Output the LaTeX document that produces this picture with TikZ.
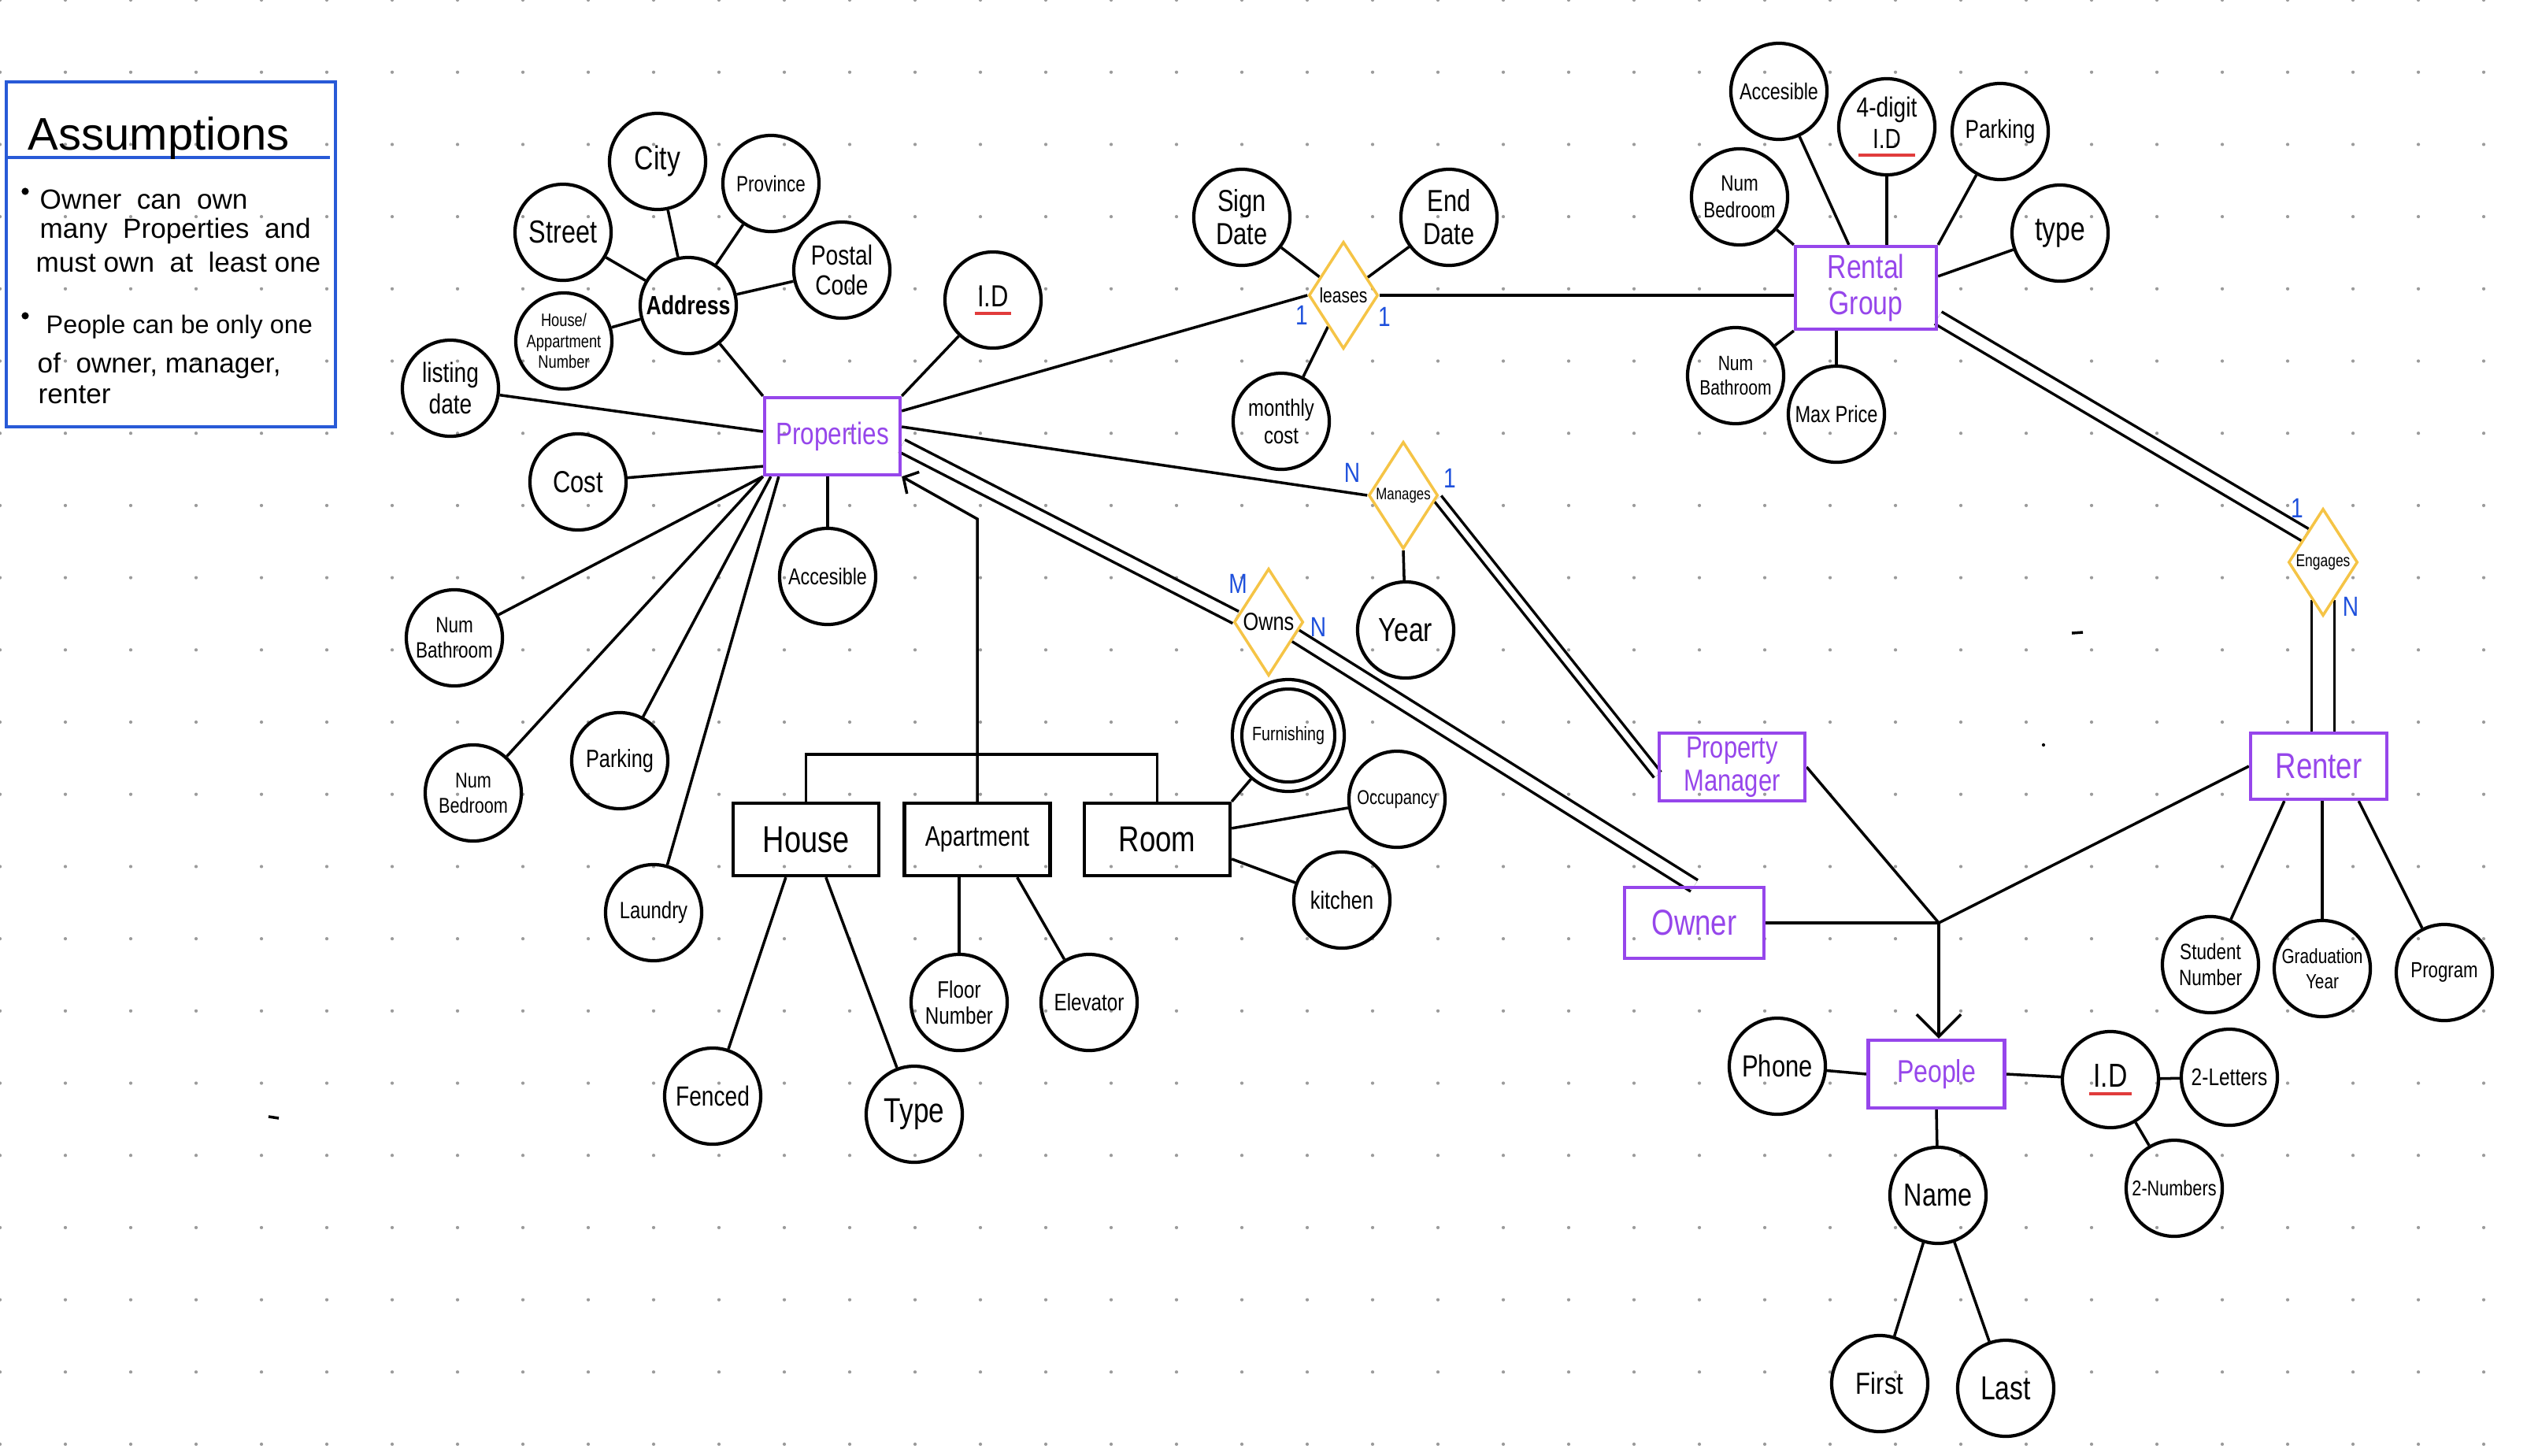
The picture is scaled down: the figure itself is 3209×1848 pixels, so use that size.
\documentclass[tikz,border=0pt]{standalone}
\usepackage{fontspec}
\setmainfont{Liberation Sans}[FakeStretch=0.8]
\newfontfamily\plainfont{Liberation Sans}
\usetikzlibrary{shapes.geometric,calc,arrows.meta}

\definecolor{purp}{RGB}{150,70,235}
\definecolor{yel}{RGB}{245,196,70}
\definecolor{cblue}{RGB}{30,80,220}
\definecolor{ablue}{RGB}{40,90,215}
\definecolor{idred}{RGB}{225,60,60}
\definecolor{dotc}{RGB}{155,155,155}

\pgfdeclarelayer{bg}
\pgfsetlayers{bg,main}

\newcommand\fz[2]{\fontsize{#1}{#2}\selectfont}
% key attribute: text with a red underline, #1 = overhang on each side
\newcommand\keyul[2]{\setbox0=\hbox{#2}\copy0\kern#1\llap{\color{idred}\rule[-3pt]{\dimexpr\wd0+#1+#1\relax}{1.1pt}}\kern-#1}

\tikzset{
  attr/.style={circle, draw, line width=1.2pt, minimum size=1.22cm, inner sep=0pt, align=center},
  ent/.style={rectangle, draw=purp, text=purp, line width=1.2pt, inner sep=0pt, align=center},
  sub/.style={rectangle, draw, line width=1.2pt, inner sep=0pt, align=center},
  rel/.style={diamond, draw=yel, line width=1pt, aspect=0.65, inner sep=0pt, minimum width=0.88cm, minimum height=1.36cm},
  card/.style={text=cblue, font=\fz{10}{10}, inner sep=0pt},
  conn/.style={line width=1pt},
  dbl/.style={line width=1pt, double=white, double distance=#1},
  atxt/.style={anchor=base west, inner sep=0pt, font=\plainfont\fz{10}{12}},
}

\begin{document}
\begin{tikzpicture}[x=0.01cm, y=-0.01cm]
\useasboundingbox (0,0) rectangle (3209,1848);

% paper and its dot grid
\begin{pgfonlayer}{bg}
\fill[white] (0,0) rectangle (3209,1848);
\foreach \i in {0,...,38}{\foreach \j in {0,...,20}{
  \fill[dotc] (\i*83,\j*91.7) circle[radius=0.6pt];}}
\end{pgfonlayer}

% ---------- assumptions panel ----------
\draw[ablue, line width=1.1pt] (8,104) rectangle (426,542);
\draw[ablue, line width=1.1pt] (8,200) -- (419,200);
\node[anchor=base west, inner sep=0pt, font=\plainfont\fz{16.5}{18}] (atitle) at (35,190) {Assumptions};
\fill (32,243) circle[radius=1.3pt];
\node[atxt] (a1) at (50,265) {Owner\ \ can\ \ own};
\node[atxt] (a2) at (50,302) {many\ \ Properties\ \ and};
\node[atxt] (a3) at (45,345) {must\ own\ \ at\ \ least\ one};
\fill (32,401) circle[radius=1.3pt];
\node[atxt, font=\plainfont\fz{9.2}{12}] (a4) at (58,423) {People can be only\ one};
\node[atxt] (a5) at (47,473) {of\ \ owner, manager,};
\node[atxt] (a6) at (48,512) {renter};

% ---------- properties ----------
\node[ent, minimum width=1.72cm, minimum height=0.98cm, font=\fz{11.2}{12}] (props) at (1057,554) {Properties};
\node[attr, font=\bfseries\fz{9.5}{10}] (address) at (874,388) {Address};
\node[attr, font=\fz{12}{13}] (city) at (835,205) {City};
\node[attr, font=\fz{8}{9}] (province) at (979,233) {Province};
\node[attr, font=\fz{11.5}{12}] (street) at (715,295) {Street};
\node[attr, font=\fz{10}{11}] (postal) at (1069,343) {Postal\\Code};
\node[attr, font=\fz{6.5}{7.5}] (houseapt) at (716,433) {House/\\Appartment\\Number};
\node[attr, font=\fz{10}{11.5}] (listing) at (572,493) {listing\\date};
\node[attr, font=\fz{11}{12}] (pid) at (1261,381) {\keyul{1pt}{I.D}};
\node[attr, font=\fz{11}{12}] (cost) at (734,612) {Cost};
\node[attr, font=\fz{8}{9}] (nbath) at (577,810) {Num\\Bathroom};
\node[attr, font=\fz{8.3}{9}] (pacc) at (1051,732) {Accesible};
\node[attr, font=\fz{7.7}{9}] (nbed) at (601,1007) {Num\\Bedroom};
\node[attr, font=\fz{9}{10}] (ppark) at (787,966) {Parking};
\node[attr, font=\fz{8.5}{9}] (laundry) at (830,1159) {Laundry};

% subtypes
\node[sub, minimum width=1.85cm, minimum height=0.92cm, font=\fz{13.5}{14}] (house) at (1023.5,1066) {House};
\node[sub, minimum width=1.85cm, minimum height=0.92cm, font=\fz{10.2}{11}] (apt) at (1241,1066) {Apartment};
\node[sub, minimum width=1.85cm, minimum height=0.92cm, font=\fz{13}{14}] (room) at (1469.5,1066) {Room};
\coordinate (bar) at (1241,958);
\coordinate (bend) at (1241,659);
\node[attr, font=\fz{10}{11}] (fenced) at (905,1392) {Fenced};
\node[attr, font=\fz{12.5}{13}] (htype) at (1161,1415) {Type};
\node[attr, font=\fz{8.6}{9.5}] (floor) at (1218,1273) {Floor\\Number};
\node[attr, font=\fz{8.6}{9.5}] (elev) at (1383,1273) {Elevator};
\node[attr, double, double distance=2.2pt, minimum size=1.30cm, font=\fz{7}{8}] (furn) at (1636,934) {Furnishing};
\node[attr, font=\fz{7.2}{8}] (occ) at (1774,1015) {Occupancy};
\node[attr, font=\fz{9}{10}] (kitchen) at (1704,1143) {kitchen};

% ---------- relationships ----------
\node[rel, font=\fz{7.5}{8}] (leases) at (1706,375) {leases};
\node[attr, font=\fz{11}{12}] (sign) at (1577,276) {Sign\\Date};
\node[attr, font=\fz{11}{12}] (endd) at (1840,276) {End\\Date};
\node[attr, font=\fz{8.5}{10}] (monthly) at (1627,535) {monthly\\cost};
\node[card] (l1) at (1653,400) {1};
\node[card] (l2) at (1758,402) {1};

\node[rel, font=\fz{6}{7}] (manages) at (1782,629) {Manages};
\node[attr, font=\fz{12}{13}] (year) at (1785,800) {Year};
\node[card] (m1) at (1717,600) {N};
\node[card] (m2) at (1841,607) {1};

\node[rel, font=\fz{9}{10}] (owns) at (1611,790) {Owns};
\node[card] (o1) at (1572,741) {M};
\node[card] (o2) at (1674,796) {N};

\node[rel, font=\fz{6.2}{7}] (engages) at (2950,714) {Engages};
\node[card] (e1) at (2917,645) {1};
\node[card] (e2) at (2985,770) {N};

% ---------- rental group ----------
\node[ent, minimum width=1.79cm, minimum height=1.05cm, font=\fz{12}{13}] (rg) at (2369.5,365.5) {Rental\\Group};
\node[attr, font=\fz{8.3}{9}] (rgacc) at (2259,116) {Accesible};
\node[attr, font=\fz{10}{11.5}] (rgid) at (2396,161) {4-digit\\\keyul{5pt}{I.D}};
\node[attr, font=\fz{9.3}{10}] (rgpark) at (2540,167) {Parking};
\node[attr, font=\fz{12}{13}] (rgtype) at (2616,296) {type};
\node[attr, font=\fz{8}{9.5}] (rgbed) at (2209,250) {Num\\Bedroom};
\node[attr, font=\fz{7.5}{9}] (rgbath) at (2204,477) {Num\\Bathroom};
\node[attr, font=\fz{8.4}{9}] (maxp) at (2332,526) {Max Price};

% ---------- people side ----------
\node[ent, minimum width=1.73cm, minimum height=0.84cm, font=\fz{13}{14}] (renter) at (2944.5,973) {Renter};
\node[attr, font=\fz{8}{9.5}] (stud) at (2807,1225) {Student\\Number};
\node[attr, font=\fz{7.4}{9}] (grad) at (2949,1230) {Graduation\\Year};
\node[attr, font=\fz{7.9}{9}] (prog) at (3104,1235) {Program};

\node[ent, minimum width=1.85cm, minimum height=0.86cm, font=\fz{11}{12}] (pm) at (2199.5,974) {Property\\Manager};
\node[ent, minimum width=1.77cm, minimum height=0.90cm, font=\fz{13}{14}] (owner) at (2151.5,1172) {Owner};
\coordinate (junc) at (2462,1172);

\node[ent, minimum width=1.73cm, minimum height=0.86cm, font=\fz{11.4}{12}] (people) at (2459,1364) {People};
\node[attr, font=\fz{11}{12}] (phone) at (2257,1354) {Phone};
\node[attr, font=\fz{12}{13}] (pplid) at (2680,1371) {\keyul{1.5pt}{I.D}};
\node[attr, font=\fz{8.7}{9}] (letters) at (2831,1368) {2-Letters};
\node[attr, font=\fz{7.7}{8}] (numbers) at (2761,1509) {2-Numbers};
\node[attr, font=\fz{11.5}{12}] (name) at (2461,1518) {Name};
\node[attr, font=\fz{11}{12}] (first) at (2387,1757) {First};
\node[attr, font=\fz{12}{13}] (last) at (2547,1763) {Last};

% ---------- connectors ----------
\begin{pgfonlayer}{bg}
% address
\draw[conn] (address) -- (props.north west);
\draw[conn] (street) -- (address);
\draw[conn] (city) -- (address);
\draw[conn] (province) -- (address);
\draw[conn] (postal) -- (address);
\draw[conn] (houseapt) -- (address);
% properties attributes
\draw[conn] (props.north east) -- (pid);
\draw[conn] ($(props.west)+(0,-6)$) -- (listing);
\draw[conn] ($(props.south west)+(0,-13)$) -- (cost);
\draw[conn] (props.south west) -- (nbath);
\draw[conn] (props.south west) -- (nbed);
\draw[conn] ($(props.south west)+(10,0)$) -- (ppark);
\draw[conn] ($(props.south west)+(20,0)$) -- (laundry);
\draw[conn] (pacc |- props.south) -- (pacc);
% subtypes
\draw[conn] (house.north) |- (bar) -| (room.north);
\draw[conn, -{Straight Barb[length=4pt,width=9pt]}] (apt.north) -- (bend) -- (props.south east);
\draw[conn] ($(house.south west)+(69,0)$) -- (fenced);
\draw[conn] ($(house.south west)+(120,0)$) -- (htype);
\draw[conn] (floor |- apt.south) -- (floor);
\draw[conn] ($(apt.south east)+(-44,0)$) -- (elev);
\draw[conn] (room.north east) -- (furn);
\draw[conn] ($(room.north east)+(0,34)$) -- (occ);
\draw[conn] ($(room.north east)+(0,73)$) -- (kitchen);
% leases
\draw[conn] ($(props.north east)+(0,19)$) -- (leases.west);
\draw[conn] (sign) -- (leases);
\draw[conn] (endd) -- (leases);
\draw[conn] (monthly) -- (leases);
\draw[conn] (leases.east) -- (leases.east -| rg.west);
% manages
\draw[conn] ($(props.east)+(0,-12)$) -- (manages.west);
\draw[conn] (manages.south) -- (year);
\draw[dbl=2.2pt] ($(manages.east)+(-2,4)$) -- ($(pm.west)+(0,10)$);
% owns
\draw[dbl=3.8pt] ($(props.east)+(0,12)$) -- ($(owns.west)+(4,-6)$);
\draw[dbl=3.8pt] ($(owns.east)!0.25!(owns.south)$) -- (owner.north);
% rental group attributes
\draw[conn] ($(rg.north west)+(70,0)$) -- (rgacc);
\draw[conn] (rgid |- rg.north) -- (rgid);
\draw[conn] (rg.north east) -- (rgpark);
\draw[conn] ($(rg.north east)+(0,40)$) -- (rgtype);
\draw[conn] (rg.north west) -- (rgbed);
\draw[conn] (rg.south west) -- (rgbath);
\draw[conn] (maxp |- rg.south) -- (maxp);
% engages
\draw[dbl=4pt] ($(rg.east)+(0,38)$) -- ($(engages.west)!0.5!(engages.north)$);
\draw[dbl=7.2pt] ($(engages.south)+(0,-22)$) -- (engages.south |- renter.north);
% renter attributes
\draw[conn] ($(renter.south west)+(45,0)$) -- (stud);
\draw[conn] (grad |- renter.south) -- (grad);
\draw[conn] ($(renter.south east)+(-38,0)$) -- (prog);
% generalisation into people
\draw[conn] (renter.west) -- (junc);
\draw[conn] (pm.east) -- (junc);
\draw[conn] (owner.east) -- (junc);
\draw[conn, -{Straight Barb[length=8pt,width=16pt]}] (junc) -- (junc |- people.north);
% people attributes
\draw[conn] (people.west) -- (phone);
\draw[conn] (people.east) -- (pplid);
\draw[conn] (pplid) -- (letters);
\draw[conn] (pplid) -- (numbers);
\draw[conn] (people.south) -- (name);
\draw[conn] (name) -- (first);
\draw[conn] (name) -- (last);
\end{pgfonlayer}

% stray pen marks
\draw[line width=1pt] (2631,804) -- (2645,803);
\fill (2595,946) circle[radius=0.6pt];
\draw[line width=1pt] (341,1418) -- (354,1420);
\end{tikzpicture}
\end{document}
